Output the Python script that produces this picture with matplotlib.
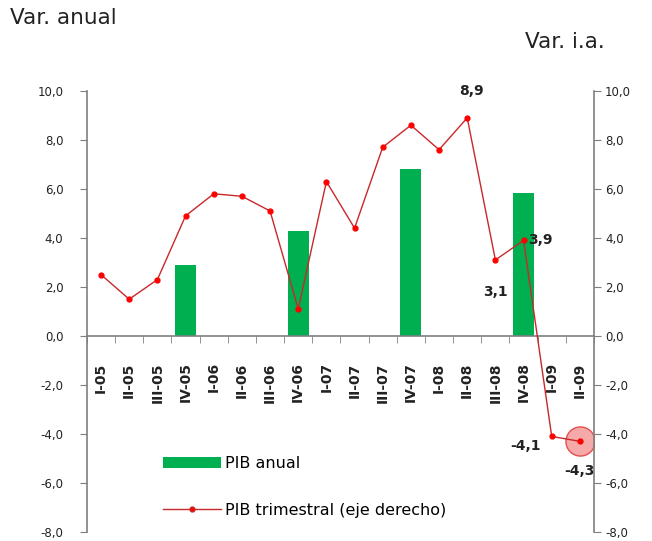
import matplotlib.pyplot as plt
import numpy as np
from matplotlib.patches import Patch
from matplotlib.lines import Line2D

# datos
trimestres = ["I-05", "II-05", "III-05", "IV-05", "I-06", "II-06", "III-06", "IV-06",
              "I-07", "II-07", "III-07", "IV-07", "I-08", "II-08", "III-08", "IV-08",
              "I-09", "II-09"]
pib_trimestral = [2.5, 1.5, 2.3, 4.9, 5.8, 5.7, 5.1, 1.1,
                  6.3, 4.4, 7.7, 8.6, 7.6, 8.9, 3.1, 3.9, -4.1, -4.3]
pib_anual = [np.nan, np.nan, np.nan, 2.9, np.nan, np.nan, np.nan, 4.3,
             np.nan, np.nan, np.nan, 6.8, np.nan, np.nan, np.nan, 5.85, np.nan, np.nan]
etiquetas = {13: "8,9", 14: "3,1", 15: "3,9", 16: "-4,1", 17: "-4,3"}

gris = "#7f7f7f"
verde = "#00B050"
rojo = "#C8282A"

fig = plt.figure(figsize=(6.52, 5.41), dpi=100)
ax = fig.add_axes([0.1334, 0.0166, 0.7776, 0.8154])
x = np.arange(len(trimestres))

ax.bar(x, pib_anual, width=0.75, color=verde, zorder=2)
ax.set_xlim(-0.5, len(trimestres) - 0.5)
ax.set_ylim(-8, 10)
ticks = np.arange(-8, 10.1, 2)
ax.set_yticks(ticks)
ax.set_yticklabels([("%.1f" % v).replace(".", ",") for v in ticks])

ax2 = ax.twinx()
ax2.set_ylim(-8, 10)
ax2.set_yticks(ticks)
ax2.set_yticklabels([("%.1f" % v).replace(".", ",") for v in ticks])
ax2.plot(x[-1], pib_trimestral[-1], marker="o", ms=21, markerfacecolor="#F59A9A",
         markeredgecolor="#E03A3A", alpha=0.85, zorder=2)
ax2.plot(x, pib_trimestral, color=rojo, lw=1.0, marker="o", ms=3.5,
         markerfacecolor="red", markeredgecolor="red", zorder=3)

# ejes
for a in (ax, ax2):
    a.spines["top"].set_visible(False)
    for s in a.spines.values():
        s.set_color(gris)
        s.set_linewidth(1.2)
ax.spines["right"].set_visible(False)
ax2.spines["left"].set_visible(False)
ax2.spines["bottom"].set_visible(False)
ax.spines["bottom"].set_position(("data", 0))

ax.set_xticks(x)
ax.set_xticklabels(trimestres, rotation=90, fontsize=10, fontweight="bold", color="#222222")
ax.tick_params(axis="x", length=0, pad=19)
ax.set_xticks(np.arange(-0.5, len(trimestres)), minor=True)
ax.tick_params(axis="x", which="minor", length=5, color=gris, direction="out")
ax.tick_params(axis="y", length=5, color=gris, labelsize=8.5, labelcolor="#222222", pad=12)
ax2.tick_params(axis="y", length=5, color=gris, labelsize=8.5, labelcolor="#222222", pad=3)

# etiquetas de datos
offsets = {13: (3, 19), 14: (0, -23), 15: (12, 0), 16: (-19, -7), 17: (0, -21)}
for i, txt in etiquetas.items():
    dx, dy = offsets[i]
    ax2.annotate(txt, (x[i], pib_trimestral[i]), xytext=(dx, dy), textcoords="offset points",
                 ha="center", va="center", fontsize=10, fontweight="bold", color="#222222", zorder=5)

fig.text(0.015, 0.966, "Var. anual", fontsize=15.5, color="#222222", va="center")
fig.text(0.805, 0.922, "Var. i.a.", fontsize=15.5, color="#222222", va="center")

handles = [Patch(facecolor=verde, edgecolor="none"),
           Line2D([0], [0], color=rojo, lw=1, marker="o", ms=3.5, markerfacecolor="red")]
fig.legend(handles, ["PIB anual", "PIB trimestral (eje derecho)"], loc="upper left",
           bbox_to_anchor=(0.228, 0.184), frameon=False, fontsize=11.5,
           handlelength=3.6, handleheight=0.7, labelspacing=2.0, handletextpad=0.3)

plt.savefig("out.png", dpi=100)
